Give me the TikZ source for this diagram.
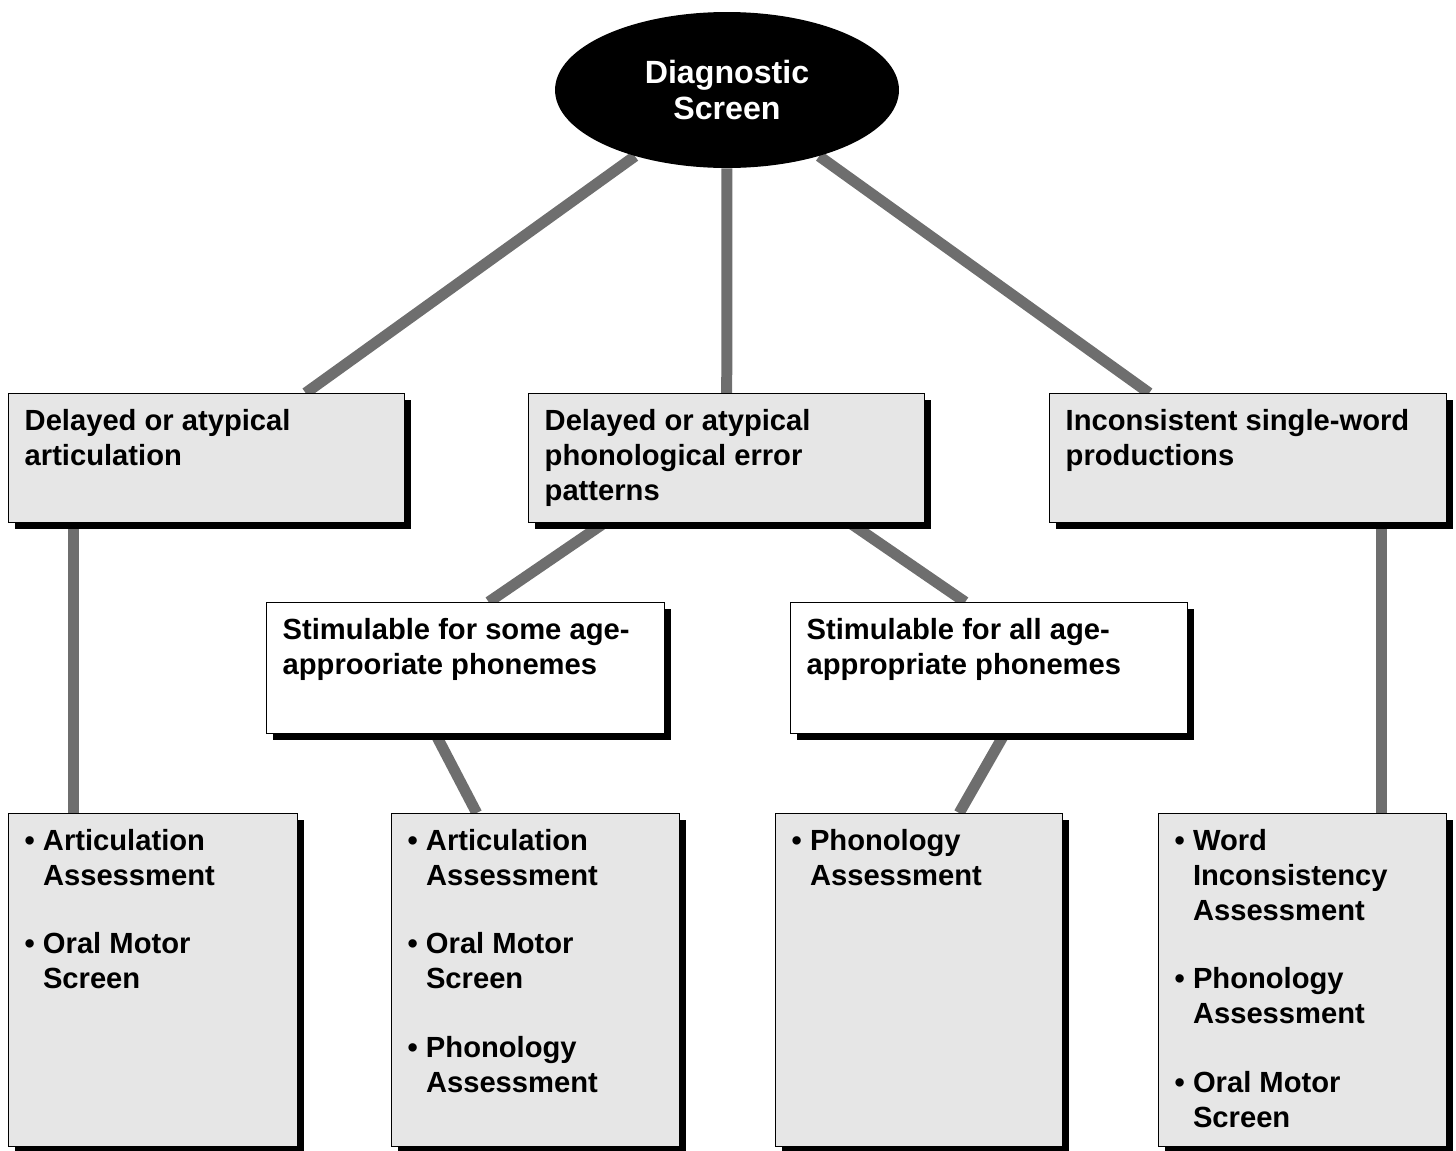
\documentclass[tikz,border=0pt]{standalone}
\usepackage{fontspec}
\setmainfont{Liberation Sans}
\usetikzlibrary{shapes.geometric,shadows,backgrounds,calc}
\definecolor{linkgray}{RGB}{110,110,110}
\definecolor{boxgray}{RGB}{230,230,230}
\newcommand{\boxtext}[3]{\parbox[t][#2][t]{#1}{\raggedright #3}}
\newcommand{\bitem}[1]{\setbox0\hbox{\textbullet\ }\hangindent=\wd0\hangafter=1\noindent\box0 #1\par}
\newcommand{\bgap}{\vskip 0.95\baselineskip}
\begin{document}
\begin{tikzpicture}[x=0.02cm,y=-0.02cm,
  font=\fontsize{16.6pt}{19.9pt}\selectfont\bfseries]
  \tikzstyle{shadowbox}=[draw, line width=0.8pt, anchor=north west, inner sep=0.32cm,
    drop shadow={shadow xshift=0.12cm, shadow yshift=-0.12cm, fill=black, opacity=1}]
  \tikzstyle{graybox}=[shadowbox, fill=boxgray]
  \tikzstyle{whitebox}=[shadowbox, fill=white]
  \tikzstyle{link}=[draw=linkgray, line width=0.22cm]
  \useasboundingbox (0,0) rectangle (1456,1150);

  % Node definitions
  \node[ellipse, fill=black, text=white, align=center, minimum width=6.88cm,
    minimum height=3.12cm, inner sep=0pt, font=\fontsize{18.3pt}{20.5pt}\selectfont\bfseries]
    (diag) at (727,90) {Diagnostic\\Screen};

  \node[graybox] (arta) at (8,393)
    {\boxtext{7.28cm}{1.94cm}{Delayed or atypical\\articulation}};
  \node[graybox] (phon) at (528,393)
    {\boxtext{7.28cm}{1.94cm}{Delayed or atypical\\phonological error\\patterns}};
  \node[graybox] (incon) at (1049,393)
    {\boxtext{7.30cm}{1.94cm}{Inconsistent single-word\\productions}};

  \node[whitebox] (somestim) at (266,602)
    {\boxtext{7.32cm}{1.98cm}{Stimulable for some age-\\approoriate phonemes}};
  \node[whitebox] (allstim) at (790,602)
    {\boxtext{7.30cm}{1.98cm}{Stimulable for all age-\\appropriate phonemes}};

  \node[graybox] (artlist) at (8,813)
    {\boxtext{5.14cm}{6.02cm}{\bitem{Articulation\newline Assessment}\bgap
      \bitem{Oral Motor\newline Screen}}};
  \node[graybox] (somelist) at (391,813)
    {\boxtext{5.12cm}{6.02cm}{\bitem{Articulation\newline Assessment}\bgap
      \bitem{Oral Motor\newline Screen}\bgap
      \bitem{Phonology\newline Assessment}}};
  \node[graybox] (phonlist) at (775,813)
    {\boxtext{5.10cm}{6.02cm}{\bitem{Phonology\newline Assessment}}};
  \node[graybox] (inconlist) at (1158,813)
    {\boxtext{5.12cm}{6.02cm}{\bitem{Word\newline Inconsistency\newline Assessment}\bgap
      \bitem{Phonology\newline Assessment}\bgap
      \bitem{Oral Motor\newline Screen}}};

  % Edge definitions
  \coordinate (artdrop) at ($(artlist.north)+(-80,0)$);
  \coordinate (incondrop) at ($(inconlist.north)+(79,0)$);
  \begin{pgfonlayer}{background}
    \draw[link] (diag) -- ($(arta.north)+(99,0)$);
    \draw[link] (diag) -- (phon);
    \draw[link] (diag) -- ($(incon.north)+(-99,0)$);
    \draw[link] (artdrop |- arta.south) -- (artdrop);
    \draw[link] ($(phon.south)+(-123,0)$) -- ($(somestim.north)+(23,0)$);
    \draw[link] ($(phon.south)+(124,0)$) -- ($(allstim.north)+(-24,0)$);
    \draw[link] ($(somestim.south)+(-30,0)$) -- ($(somelist.north)+(-59,0)$);
    \draw[link] ($(allstim.south)+(15,0)$) -- ($(phonlist.north)+(40,0)$);
    \draw[link] (incondrop |- incon.south) -- (incondrop);
  \end{pgfonlayer}
\end{tikzpicture}
\end{document}
